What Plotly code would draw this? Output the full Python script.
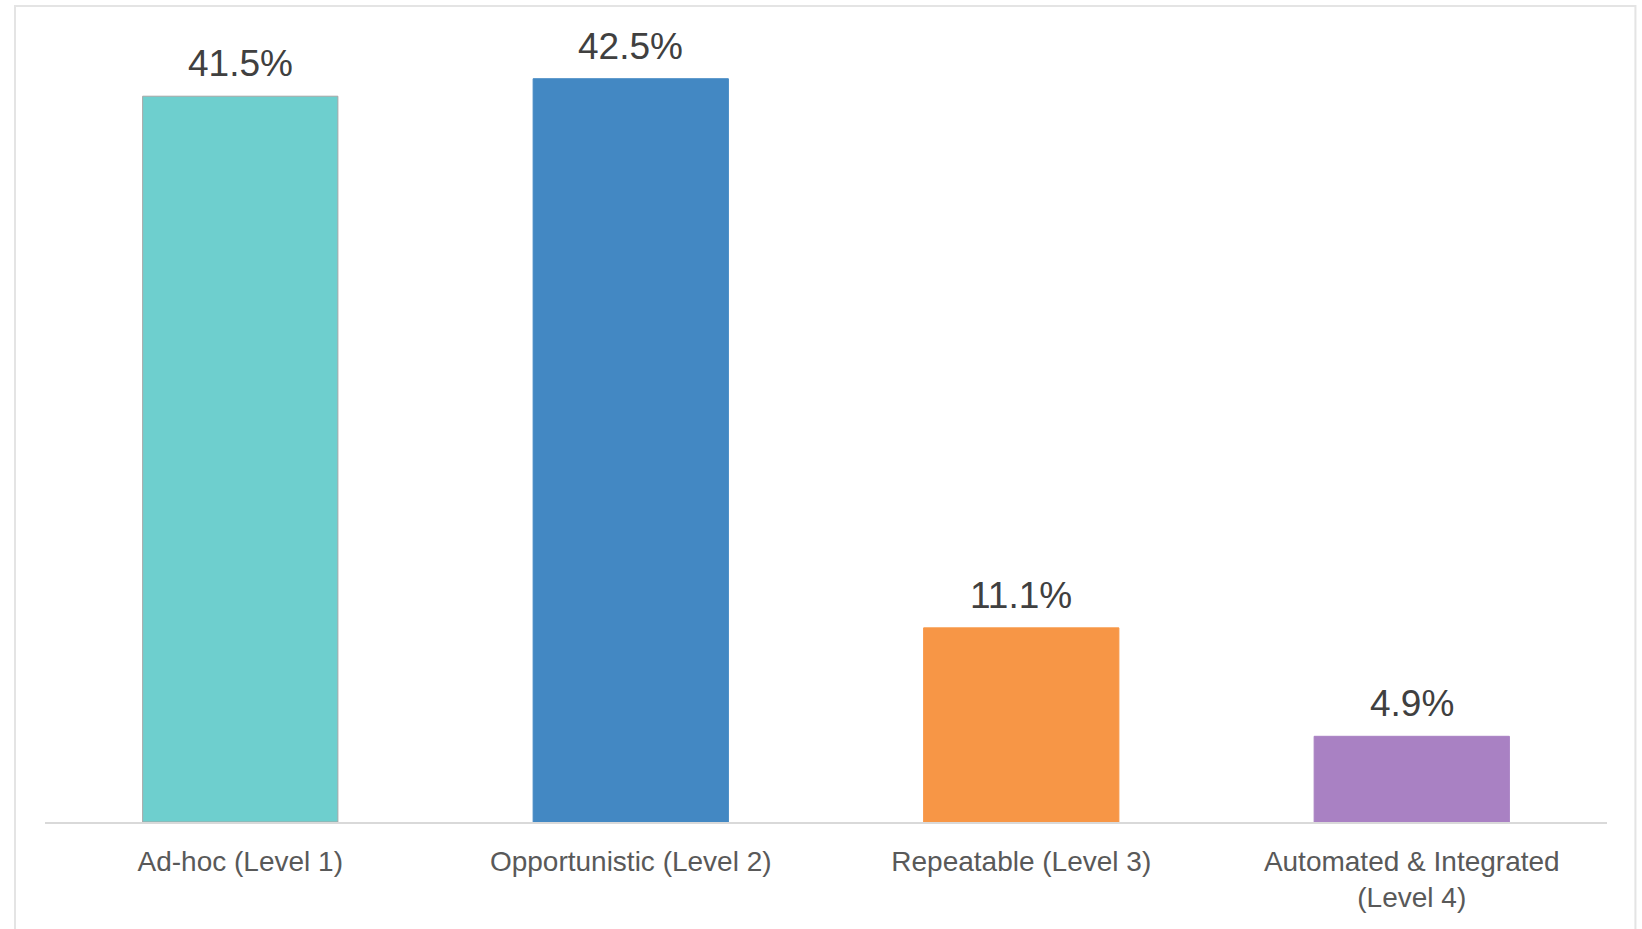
import plotly.graph_objects as go

# Maturity levels and share of respondents (%)
categories = ["Ad-hoc (Level 1)", "Opportunistic (Level 2)", "Repeatable (Level 3)",
              "Automated & Integrated<br>(Level 4)"]
shares = [41.5, 42.5, 11.1, 4.9]
bar_colors = ["#6ECFCE", "#4388C3", "#F79646", "#A981C3"]
outline_colors = ["#A6A6A6", "#4388C3", "#F79646", "#A981C3"]

fig = go.Figure(
    go.Bar(
        x=categories,
        y=shares,
        marker=dict(color=bar_colors, line=dict(color=outline_colors, width=1)),
        width=0.5,
        hoverinfo="skip",
    )
)

# Value labels above each bar
for cat, val in zip(categories, shares):
    fig.add_annotation(
        x=cat, y=val, text=f"{val:.1f}%", showarrow=False,
        yanchor="bottom", yshift=10,
        font=dict(family="Liberation Sans, Arial, sans-serif", size=37, color="#404040"),
    )

# Light frame around the chart
fig.add_shape(
    type="rect", xref="paper", yref="paper",
    x0=-0.0192, x1=1.0182, y0=-0.3, y1=1.037,
    line=dict(color="#E4E4E4", width=2), fillcolor="rgba(0,0,0,0)", layer="below",
)

fig.update_layout(
    width=1642, height=929,
    margin=dict(l=45, r=35, t=35, b=107),
    paper_bgcolor="white", plot_bgcolor="white",
    showlegend=False,
    bargap=0.5,
    font=dict(family="Liberation Sans, Arial, sans-serif", color="#595959"),
)
fig.update_xaxes(
    showline=True, linecolor="#D9D9D9", linewidth=2,
    showgrid=False, zeroline=False,
    ticks="outside", ticklen=13, tickcolor="rgba(0,0,0,0)",
    tickfont=dict(size=28, color="#595959"),
)
fig.update_yaxes(range=[0, 45], visible=False, showgrid=False, zeroline=False)

fig.write_html("out.html")
